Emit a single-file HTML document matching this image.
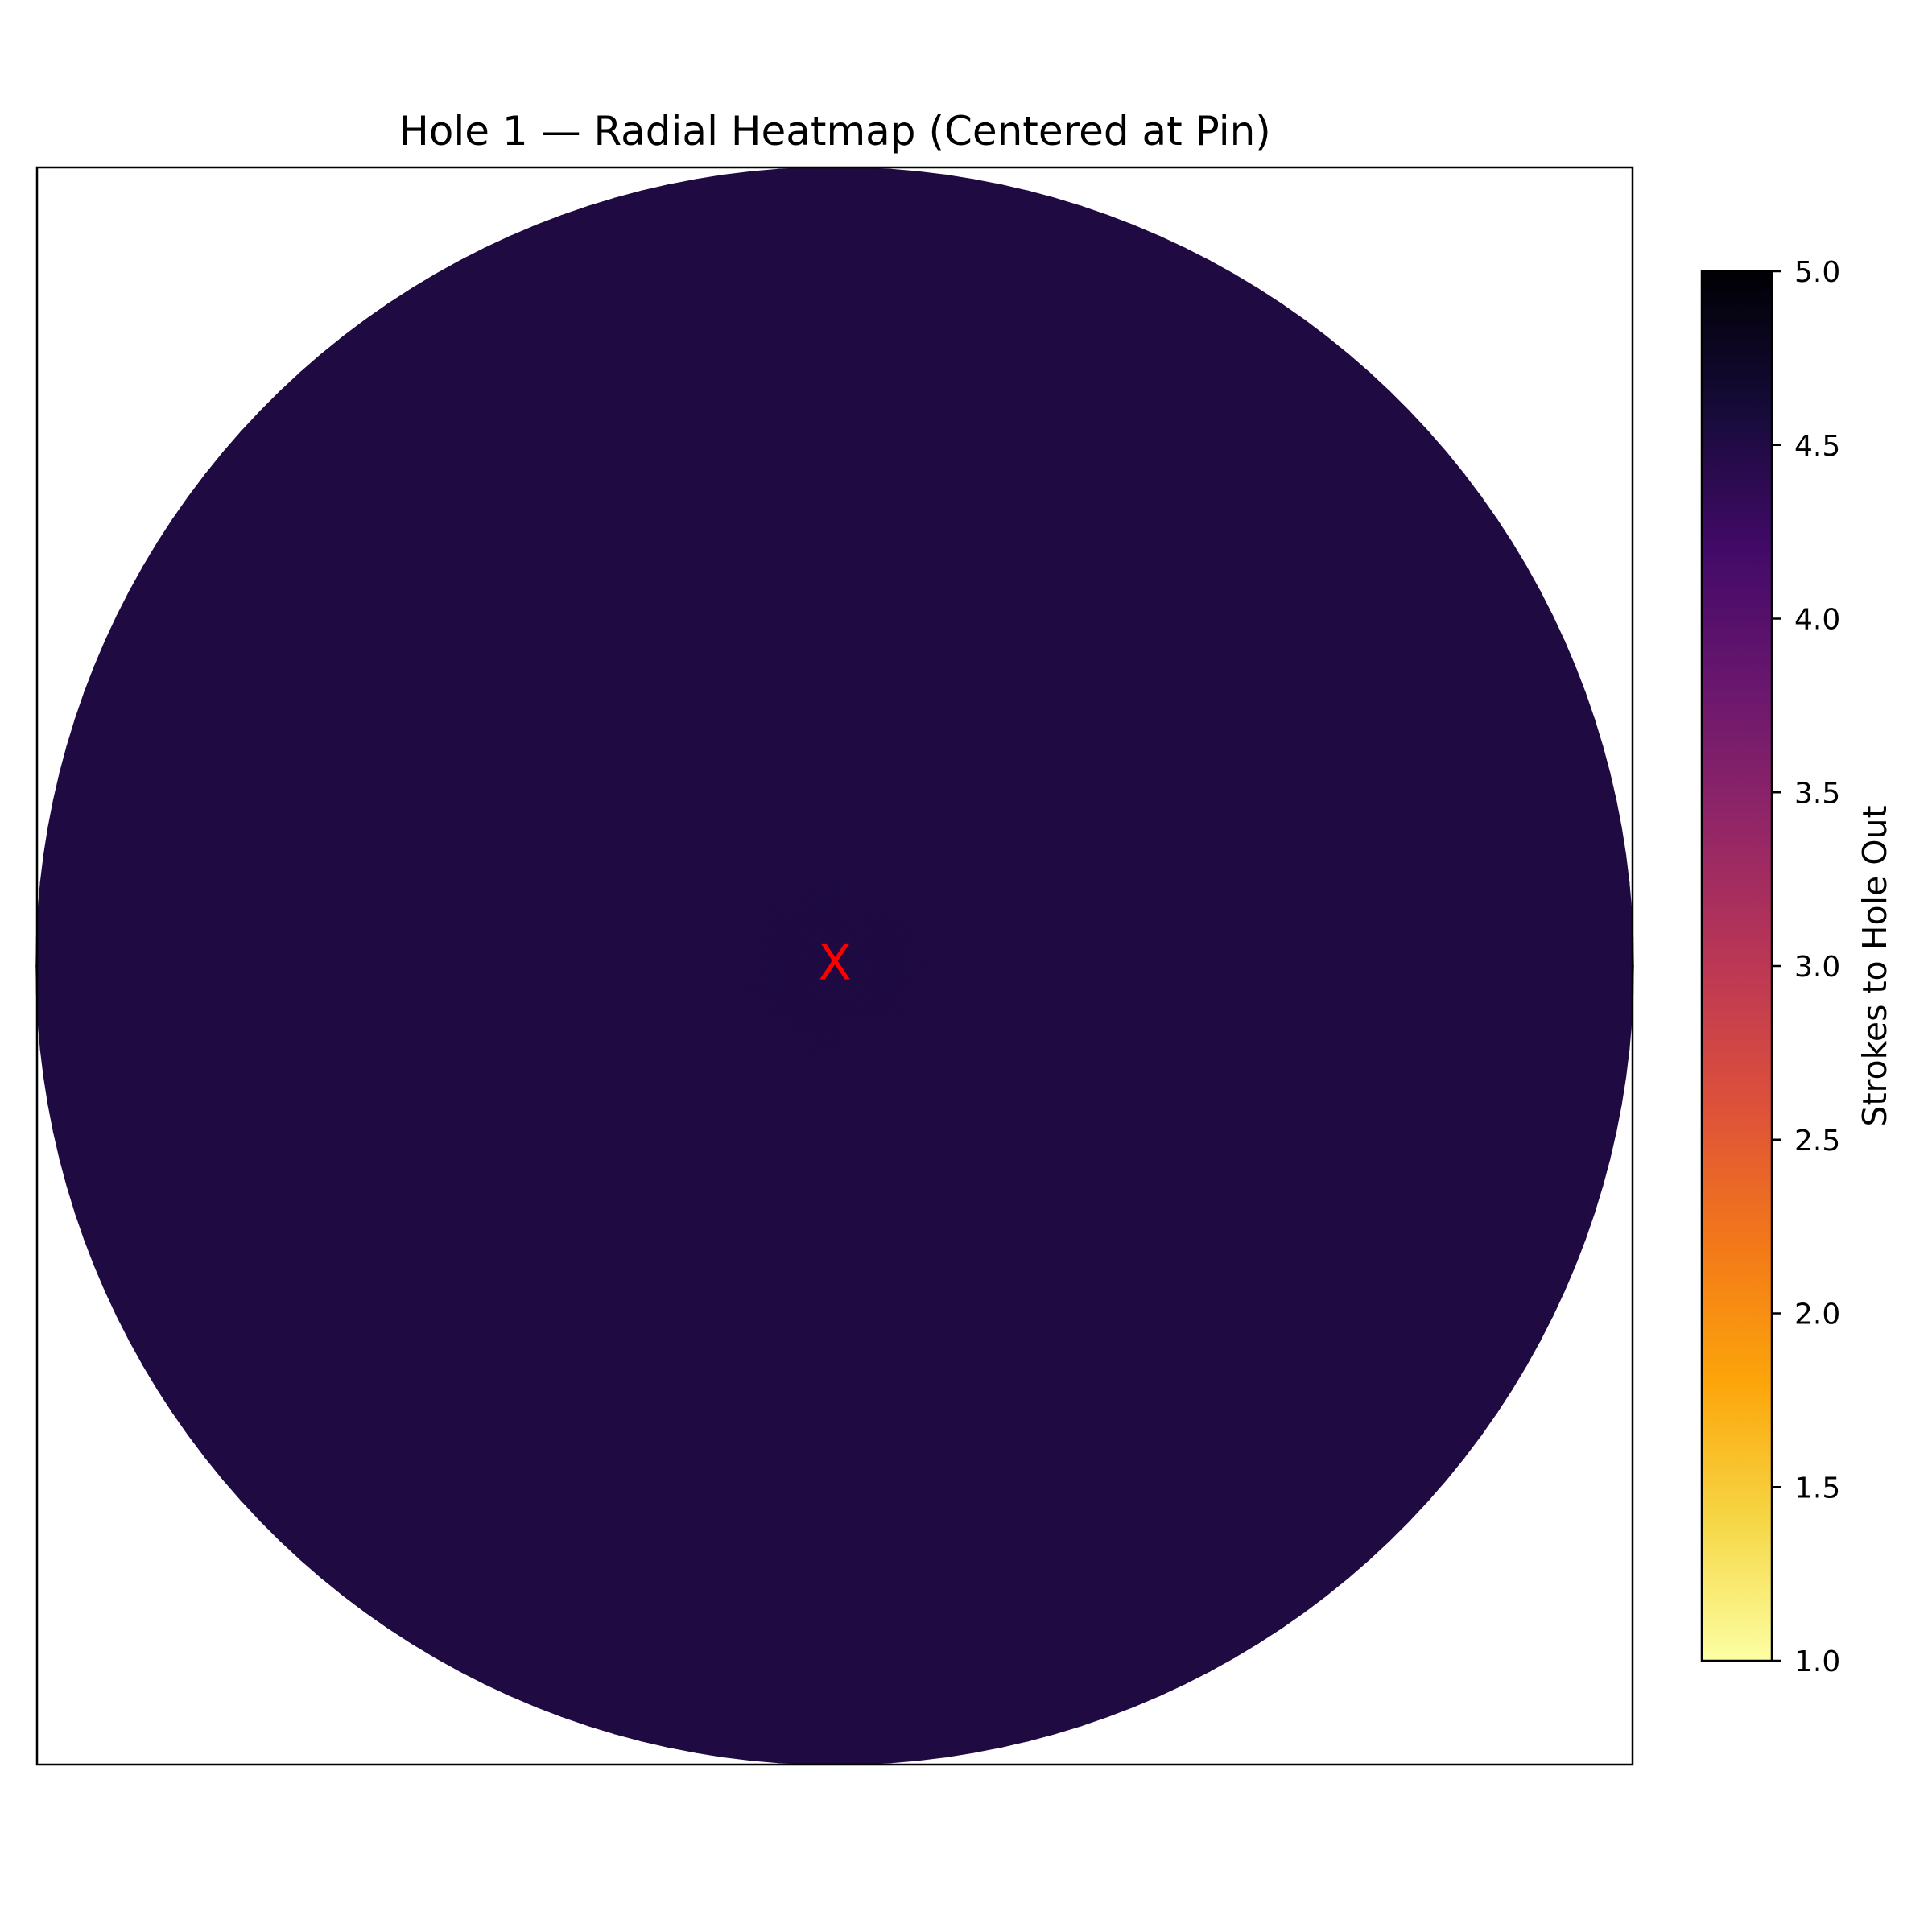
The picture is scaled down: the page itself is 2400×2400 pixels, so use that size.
<!DOCTYPE html>
<html><head><meta charset="utf-8">
<style>
html,body{margin:0;padding:0;background:#fff;}
svg{display:block;font-family:"DejaVu Sans","Liberation Sans",sans-serif;}
</style></head>
<body>
<svg id="chart" width="2400" height="2400" viewBox="0 0 2400 2400">
<defs>
<linearGradient id="cbgrad" x1="0" y1="1" x2="0" y2="0">
<stop offset="0" stop-color="#fcffa4"/><stop offset="0.1" stop-color="#f6d746"/>
<stop offset="0.2" stop-color="#fca50a"/><stop offset="0.3" stop-color="#f37819"/>
<stop offset="0.4" stop-color="#dd513a"/><stop offset="0.5" stop-color="#bc3754"/>
<stop offset="0.6" stop-color="#932667"/><stop offset="0.7" stop-color="#6a176e"/>
<stop offset="0.8" stop-color="#420a68"/><stop offset="0.9" stop-color="#160b39"/>
<stop offset="1" stop-color="#000004"/>
</linearGradient>
</defs>
<text x="1037" y="180" font-size="50" text-anchor="middle" fill="#000">Hole 1 — Radial Heatmap (Centered at Pin)</text>
<g id="cells"></g>
<rect x="46" y="208" width="1982" height="1984" fill="none" stroke="#000" stroke-width="2.5"/>
<text x="1037" y="1200" font-size="60" text-anchor="middle" dominant-baseline="middle" fill="#ff0000">X</text>
<rect x="2114" y="337" width="87" height="1726" fill="url(#cbgrad)" stroke="#000" stroke-width="2.5"/>
<g id="cbticks"></g>
<text transform="translate(2343,1200) rotate(-90)" font-size="41" text-anchor="middle" fill="#000">Strokes to Hole Out</text>
</svg>
<script>
const radii = [0, 100, 200, 300, 400, 500];
const angleBins = 180;
const values = [
 [4.52,4.52,4.52,4.52,4.52]
];
const tickLabels = ["1.0","1.5","2.0","2.5","3.0","3.5","4.0","4.5","5.0"];
const tickValues = [1.0,1.5,2.0,2.5,3.0,3.5,4.0,4.5,5.0];
const vmin = 1, vmax = 5;

const NS = "http://www.w3.org/2000/svg";
const cx = 1037, cy = 1200, R = 992;
const rmax = radii[radii.length-1];
function rScale(r){ return r / rmax * R; }
function cbY(v){ return 2063 - (v - vmin)/(vmax - vmin) * 1726; }
const stops = ["#000004","#160b39","#420a68","#6a176e","#932667","#bc3754","#dd513a","#f37819","#fca50a","#f6d746","#fcffa4"];
function hex(h){ return [1,3,5].map(i=>parseInt(h.substr(i,2),16)); }
function color(v){
  let t = (vmax - v)/(vmax - vmin); t = Math.max(0, Math.min(1, t));
  const p = t*10, i = Math.min(9, Math.floor(p)), f = p - i;
  const a = hex(stops[i]), b = hex(stops[i+1]);
  return "rgb(" + a.map((x,k)=>Math.round(x+(b[k]-x)*f)).join(",") + ")";
}
const cells = document.getElementById("cells");
for (let a = 0; a < angleBins; a++) {
  const t0 = a/angleBins*2*Math.PI, t1 = (a+1)/angleBins*2*Math.PI;
  for (let j = 0; j < radii.length-1; j++) {
    const v = values[0][j];
    const r0 = rScale(radii[j]), r1 = rScale(radii[j+1]);
    const pts = [[r0,t0],[r1,t0],[r1,t1],[r0,t1]].map(([r,t])=>(cx+r*Math.cos(t)).toFixed(2)+","+(cy-r*Math.sin(t)).toFixed(2));
    const p = document.createElementNS(NS, "polygon");
    p.setAttribute("points", pts.join(" "));
    p.setAttribute("fill", color(v));
    p.setAttribute("stroke", color(v));
    p.setAttribute("stroke-width", "1.5");
    
    
    cells.appendChild(p);
  }
}
const tg = document.getElementById("cbticks");
tickValues.forEach((v, i) => {
  const y = cbY(v);
  const l = document.createElementNS(NS, "line");
  l.setAttribute("x1", 2201); l.setAttribute("x2", 2213);
  l.setAttribute("y1", y); l.setAttribute("y2", y);
  l.setAttribute("stroke", "#000"); l.setAttribute("stroke-width", "2.5");
  
  
  tg.appendChild(l);
  const t = document.createElementNS(NS, "text");
  t.setAttribute("x", 2229); t.setAttribute("y", y + 13);
  t.setAttribute("font-size", "36");
  t.textContent = tickLabels[i];
  
  
  tg.appendChild(t);
});
</script>
</body></html>
